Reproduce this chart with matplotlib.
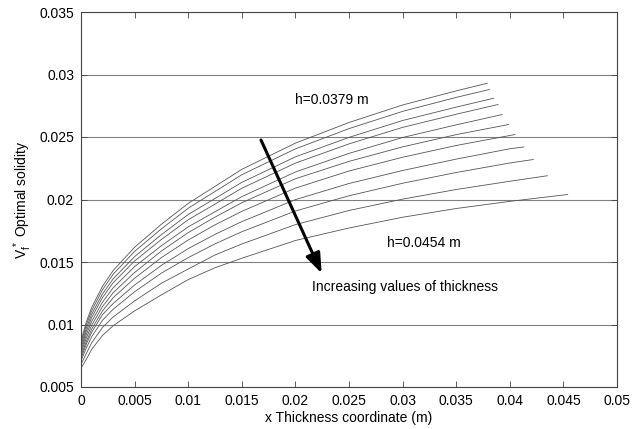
import matplotlib
matplotlib.use("Agg")
import matplotlib.pyplot as plt

plt.rcParams['font.family'] = ['Liberation Sans', 'DejaVu Sans']
plt.rcParams['mathtext.fontset'] = 'custom'
plt.rcParams['mathtext.rm'] = 'Liberation Sans'
plt.rcParams['mathtext.it'] = 'Liberation Sans'

# shared thickness coordinate grid (m)
x_grid = [0, 0.0005, 0.001, 0.002, 0.003, 0.005, 0.0075, 0.01, 0.0125,
          0.015, 0.02, 0.025, 0.03, 0.035, 0.04]

# thickness values h (m), each curve ends at x = h
thickness = [0.0379, 0.0381, 0.0385, 0.0389, 0.0393, 0.0399,
             0.0405, 0.0413, 0.0422, 0.0435, 0.0454]

# optimal solidity values on x_grid (followed by value at x = h)
v_h1 = [0.0087, 0.01022, 0.01137, 0.01305, 0.01432, 0.01618, 0.01802, 0.01969,
        0.02105, 0.02241, 0.02451, 0.02616, 0.02756, 0.02869, 0.0293]
v_h2 = [0.0085, 0.00999, 0.01111, 0.01277, 0.01402, 0.01585, 0.01765, 0.01930,
        0.02064, 0.02198, 0.02405, 0.02567, 0.02705, 0.02817, 0.0288]
v_h3 = [0.0083, 0.00972, 0.01083, 0.01244, 0.01365, 0.01543, 0.01719, 0.01880,
        0.02008, 0.02137, 0.02341, 0.02497, 0.02632, 0.02739, 0.0281]
v_h4 = [0.0081, 0.00947, 0.01056, 0.01215, 0.01334, 0.01508, 0.01680, 0.01838,
        0.01963, 0.02090, 0.02291, 0.02445, 0.02577, 0.02682, 0.0276]
v_h5 = [0.0079, 0.00921, 0.01025, 0.01178, 0.01294, 0.01463, 0.01630, 0.01781,
        0.01902, 0.02023, 0.02220, 0.02369, 0.02496, 0.02597, 0.0268]
v_h6 = [0.0077, 0.00893, 0.00995, 0.01143, 0.01254, 0.01416, 0.01588, 0.01735,
        0.01859, 0.01974, 0.02166, 0.02305, 0.02421, 0.02519, 0.0260]
v_h7 = [0.0075, 0.00865, 0.00964, 0.01108, 0.01214, 0.01370, 0.01535, 0.01676,
        0.01797, 0.01905, 0.02091, 0.02228, 0.02338, 0.02432, 0.0252]
v_h8 = [0.0073, 0.00844, 0.00938, 0.01078, 0.01168, 0.01316, 0.01473, 0.01607,
        0.01721, 0.01823, 0.01999, 0.02128, 0.02232, 0.02323, 0.02406, 0.0242]
v_h9 = [0.0071, 0.00813, 0.00903, 0.01033, 0.01122, 0.01262, 0.01411, 0.01535,
        0.01645, 0.01742, 0.01908, 0.02030, 0.02130, 0.02216, 0.02292, 0.0232]
v_h10 = [0.0068, 0.00769, 0.00854, 0.00976, 0.01060, 0.01189, 0.01330, 0.01444,
         0.01556, 0.01644, 0.01799, 0.01912, 0.02003, 0.02080, 0.02146, 0.0219]
v_h11 = [0.0065, 0.00722, 0.00802, 0.00912, 0.00990, 0.01109, 0.01237, 0.01359,
         0.01454, 0.01530, 0.01672, 0.01772, 0.01858, 0.01928, 0.01985, 0.0204]

curves = [v_h1, v_h2, v_h3, v_h4, v_h5, v_h6, v_h7, v_h8, v_h9, v_h10, v_h11]

x_ticks = [0, 0.005, 0.01, 0.015, 0.02, 0.025, 0.03, 0.035, 0.04, 0.045, 0.05]
x_tick_labels = ['0', '0.005', '0.01', '0.015', '0.02', '0.025', '0.03',
                 '0.035', '0.04', '0.045', '0.05']
y_ticks = [0.005, 0.01, 0.015, 0.02, 0.025, 0.03, 0.035]
y_tick_labels = ['0.005', '0.01', '0.015', '0.02', '0.025', '0.03', '0.035']

fig = plt.figure(figsize=(6.32, 4.29), dpi=100)
ax = fig.add_axes([81 / 632, 42 / 429, 536 / 632, 375 / 429])

for h, vals in zip(thickness, curves):
    xs = x_grid[:len(vals) - 1] + [h]
    ax.plot(xs, vals, color='#555555', lw=0.6)

ax.set_xlim(0, 0.05)
ax.set_ylim(0.005, 0.035)
ax.set_xticks(x_ticks)
ax.set_xticklabels(x_tick_labels)
ax.set_yticks(y_ticks)
ax.set_yticklabels(y_tick_labels)
ax.tick_params(direction='in', top=True, right=True, labelsize=10,
               length=4, width=0.6, color='#444444', pad=5)
ax.yaxis.grid(True, color='#808080', lw=0.8)
ax.xaxis.grid(False)
for s in ax.spines.values():
    s.set_color('#444444')
    s.set_linewidth(0.8)

ax.set_xlabel('x Thickness coordinate (m)', fontsize=10, labelpad=2)
ax.set_ylabel(r'$\mathregular{V_f^{\,*}}$ Optimal solidity', fontsize=10, labelpad=4)

ax.text(0.01996, 0.02796, 'h=0.0379 m', fontsize=10, va='center', ha='left')
ax.text(0.02852, 0.01654, 'h=0.0454 m', fontsize=10, va='center', ha='left')
ax.text(0.02152, 0.01302, 'Increasing values of thickness', fontsize=10,
        va='center', ha='left')

ax.annotate('', xy=(0.02245, 0.0141), xytext=(0.01679, 0.02476),
            arrowprops=dict(arrowstyle='-|>,head_length=1.2,head_width=0.45',
                            color='black', lw=2.2, shrinkA=0, shrinkB=0))

fig.savefig('out.png', dpi=100)
